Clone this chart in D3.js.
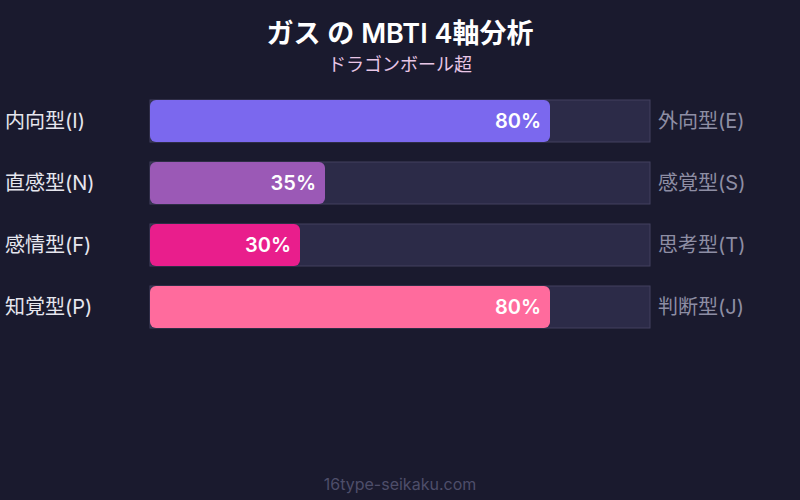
<!DOCTYPE html>
<html>
<head>
<meta charset="utf-8">
<script src="https://cdn.jsdelivr.net/npm/d3@7"></script>
<style>
  html, body { margin: 0; padding: 0; background: #1a1a2e; }
  svg { display: block; font-family: Inter, "Noto Sans CJK JP", sans-serif; }
</style>
</head>
<body>
<svg id="chart" width="800" height="500"></svg>
<script>
// data
const leftLabels = ['内向型(I)', '直感型(N)', '感情型(F)', '知覚型(P)']
const rightLabels = ['外向型(E)', '感覚型(S)', '思考型(T)', '判断型(J)']
const values = [80, 35, 30, 80]
const barColors = ['#7b68ee', '#9b59b6', '#e91e8c', '#ff6b9d']

const W = 800, H = 500
const svg = d3.select('#chart')

svg.append('rect').attr('width', W).attr('height', H).attr('fill', '#1a1a2e')

svg.append('text')
  .attr('x', W / 2).attr('y', 43)
  .attr('text-anchor', 'middle')
  .attr('fill', '#ffffff')
  .attr('font-size', 27).attr('font-weight', 600)
  .text('ガス の MBTI 4軸分析')

svg.append('text')
  .attr('x', W / 2).attr('y', 71)
  .attr('text-anchor', 'middle')
  .attr('fill', '#e8c6e6')
  .attr('font-size', 18)
  .text('ドラゴンボール超')

const x = d3.scaleLinear().domain([0, 100]).range([150, 650])
const y = d3.scaleBand().domain(d3.range(values.length)).range([100, 328]).paddingInner(20 / 62)

const rows = svg.selectAll('g.row').data(values).join('g').attr('class', 'row')

rows.append('rect')
  .attr('x', x(0)).attr('y', (d, i) => y(i))
  .attr('width', x(100) - x(0)).attr('height', y.bandwidth())
  .attr('fill', '#2c2b48')
  .attr('stroke', '#42415f').attr('stroke-width', 1)

rows.append('rect')
  .attr('x', x(0)).attr('y', (d, i) => y(i))
  .attr('width', d => x(d) - x(0)).attr('height', y.bandwidth())
  .attr('rx', 6)
  .attr('fill', (d, i) => barColors[i])

rows.append('text')
  .attr('x', d => x(d) - 9).attr('y', (d, i) => y(i) + y.bandwidth() / 2)
  .attr('dy', '0.36em')
  .attr('text-anchor', 'end')
  .attr('fill', '#ffffff')
  .attr('font-size', 20).attr('font-weight', 600)
  .text(d => d + '%')

rows.append('text')
  .attr('x', 5).attr('y', (d, i) => y(i) + y.bandwidth() / 2)
  .attr('dy', '0.36em')
  .attr('fill', '#e6e6ee')
  .attr('font-size', 20)
  .text((d, i) => leftLabels[i])

rows.append('text')
  .attr('x', 658).attr('y', (d, i) => y(i) + y.bandwidth() / 2)
  .attr('dy', '0.36em')
  .attr('fill', '#8e8ea4')
  .attr('font-size', 20)
  .text((d, i) => rightLabels[i])

svg.append('text')
  .attr('x', W / 2).attr('y', 490)
  .attr('text-anchor', 'middle')
  .attr('fill', '#4e4e6a')
  .attr('font-size', 16)
  .text('16type-seikaku.com')
</script>
</body>
</html>
